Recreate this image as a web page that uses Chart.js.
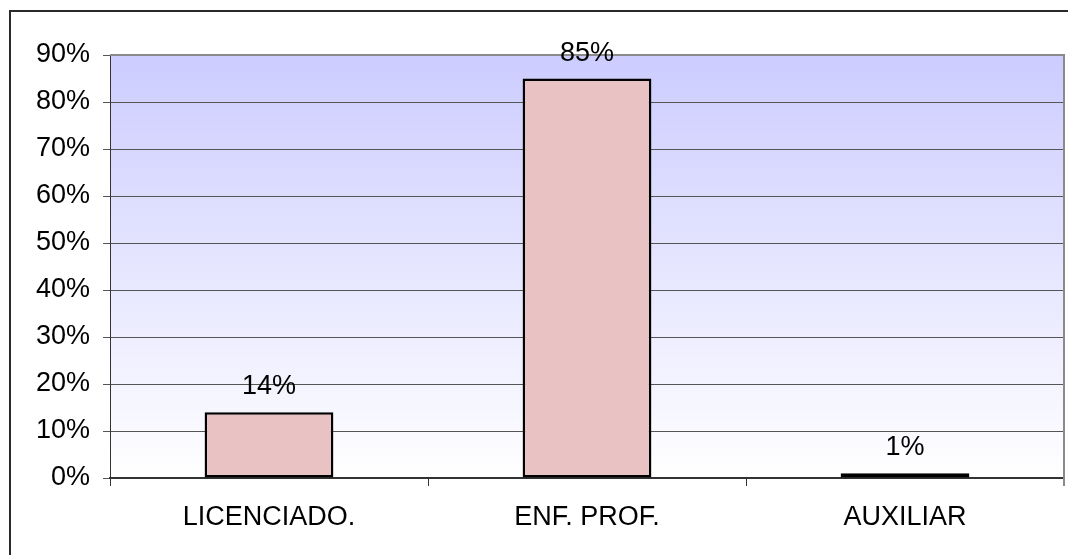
<!DOCTYPE html>
<html>
<head>
<meta charset="utf-8">
<script src="https://cdn.jsdelivr.net/npm/chart.js@4.4.1/dist/chart.umd.min.js"></script>
<style>
  html, body { margin: 0; padding: 0; background: #fff; overflow: hidden; }
  #wrap { position: relative; width: 1068px; height: 555px; }
  #frame { position: absolute; left: 9px; top: 10px; width: 1100px; height: 600px; border: 2px solid #2a2a2a; box-sizing: border-box; pointer-events: none; }
  canvas { position: absolute; left: 0; top: 0; }
</style>
</head>
<body>
<div id="wrap">
  <canvas id="chart" width="1068" height="555"></canvas>
  <div id="frame"></div>
</div>
<script>
const categories = ["LICENCIADO.", "ENF. PROF.", "AUXILIAR"];
const values = [14, 85, 1];
const yMax = 90;
const yStep = 10;

const FONT = "Liberation Sans, Arial, sans-serif";
const FONT_SIZE = 27;

// plot background: blue at the top fading to white
const plotBackground = {
  id: "plotBackground",
  beforeDraw(chart) {
    const { ctx, chartArea: a } = chart;
    const g = ctx.createLinearGradient(0, a.top, 0, a.bottom);
    g.addColorStop(0, "#ccccff");
    g.addColorStop(1, "#ffffff");
    ctx.save();
    ctx.fillStyle = g;
    ctx.fillRect(a.left, a.top, a.right - a.left, a.bottom - a.top);
    ctx.restore();
  },
  afterDatasetsDraw(chart) {
    const { ctx, chartArea: a } = chart;
    ctx.save();
    ctx.strokeStyle = "#8a8a8a";
    ctx.lineWidth = 2;
    ctx.beginPath();
    ctx.moveTo(a.left, a.top);
    ctx.lineTo(a.right, a.top);
    ctx.lineTo(a.right, a.bottom + 8);
    ctx.stroke();
    ctx.restore();
  }
};

const valueLabels = {
  id: "valueLabels",
  afterDatasetsDraw(chart) {
    const { ctx } = chart;
    const meta = chart.getDatasetMeta(0);
    ctx.save();
    ctx.font = FONT_SIZE + "px " + FONT;
    ctx.fillStyle = "#000";
    ctx.textAlign = "center";
    ctx.textBaseline = "alphabetic";
    meta.data.forEach((bar, i) => {
      ctx.fillText(values[i] + "%", bar.x, bar.y - 18);
    });
    ctx.restore();
  }
};

new Chart(document.getElementById("chart"), {
  type: "bar",
  data: {
    labels: categories,
    datasets: [{
      data: values,
      backgroundColor: "#e9c2c4",
      borderColor: "#000",
      borderWidth: 2.5,
      borderSkipped: false,
      categoryPercentage: 1,
      barPercentage: 0.405
    }]
  },
  options: {
    responsive: false,
    animation: false,
    events: [],
    layout: { padding: { top: 55, right: 4, left: 0, bottom: 0 } },
    plugins: { legend: { display: false }, tooltip: { enabled: false } },
    scales: {
      x: {
        offset: true,
        grid: { offset: true, drawOnChartArea: false, drawTicks: true, tickLength: 8, color: "#333" },
        border: { color: "#333", width: 2 },
        ticks: { color: "#000", font: { family: FONT, size: FONT_SIZE }, padding: 15, maxRotation: 0 },
        afterFit(scale) { scale.height = 77; }
      },
      y: {
        min: 0,
        max: yMax,
        ticks: {
          stepSize: yStep,
          color: "#000",
          font: { family: FONT, size: FONT_SIZE },
          padding: 13,
          callback: v => v + "%"
        },
        grid: { color: "#555", lineWidth: 1, tickLength: 7 },
        border: { color: "#333", width: 1 },
        afterFit(scale) { scale.width = 110; }
      }
    }
  },
  plugins: [plotBackground, valueLabels]
});
</script>
</body>
</html>
